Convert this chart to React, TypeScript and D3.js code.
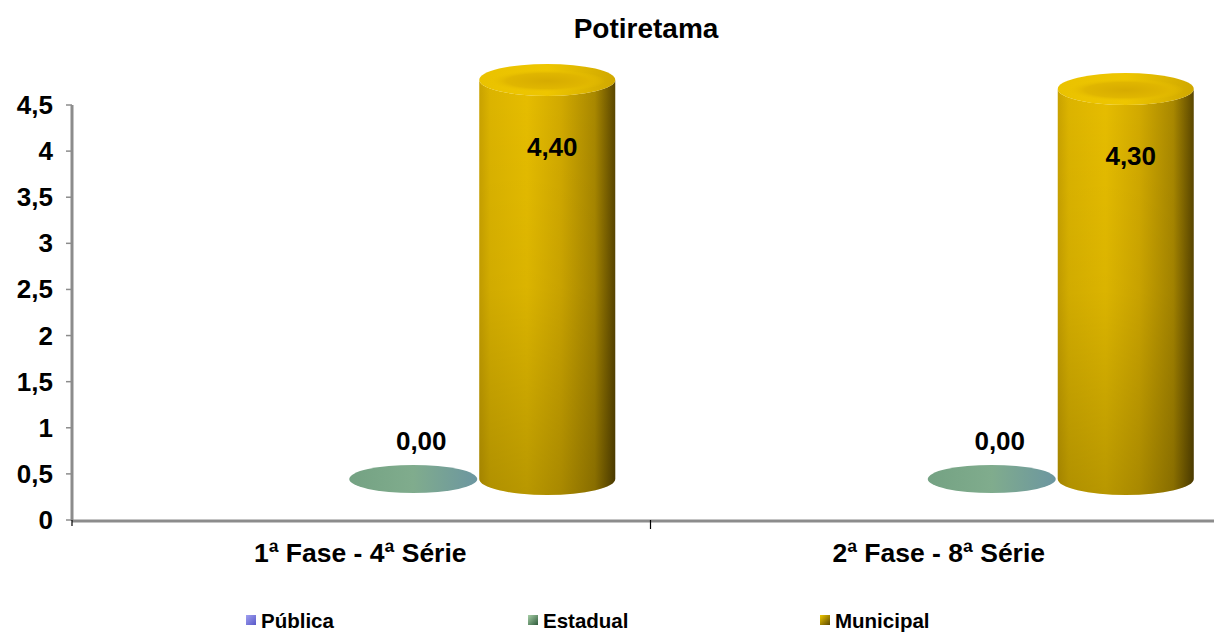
import React from "react";
import * as d3 from "d3";

const categories = ["1ª Fase - 4ª Série", "2ª Fase - 8ª Série"];
const seriesNames = ["Pública", "Estadual", "Municipal"];
const publica: (number | null)[] = [null, null];
const estadual: (number | null)[] = [0, 0];
const municipal: (number | null)[] = [4.4, 4.3];
const yTicks = [0, 0.5, 1, 1.5, 2, 2.5, 3, 3.5, 4, 4.5];
const title = "Potiretama";

const W = 1214;
const H = 632;
const FONT = "'Liberation Sans', Arial, sans-serif";

export default function App() {
  const x = d3.scaleBand<string>().domain(categories).range([72, 1229]).paddingInner(0);
  const y = d3.scaleLinear().domain([0, 4.5]).range([520, 105]);
  // 3D depth projection: bars sit behind the front axis plane
  const depthDx = 52;
  const depthDy = -41;
  const yBar = d3.scaleLinear().domain([0, 4.5]).range([y(0) + depthDy, y(0) + depthDy - 4.5 * 90.7]);
  const inner = d3.scaleBand<string>().domain(seriesNames).range([-201, 201]);
  const seriesData = [publica, estadual, municipal];
  const fmt = (v: number) => v.toFixed(2).replace(".", ",");
  const ry = 16;

  const slotCenter = (ci: number, si: number) =>
    (x(categories[ci]) as number) + x.bandwidth() / 2 + depthDx + (inner(seriesNames[si]) as number) + inner.bandwidth() / 2;

  const cylinders: React.ReactNode[] = [];
  const labels: React.ReactNode[] = [];
  categories.forEach((c, ci) => {
    seriesData.forEach((arr, si) => {
      const v = arr[ci];
      if (v === null || v === undefined) return;
      const cx = slotCenter(ci, si);
      const yb = yBar(0);
      const yt = yBar(v);
      if (v === 0) {
        const rx = 64;
        cylinders.push(
          <ellipse key={`e${ci}${si}`} cx={cx} cy={yb} rx={rx} ry={ry - 2} fill="url(#greenFlat)" />
        );
        labels.push(
          <text key={`l${ci}${si}`} x={cx + 8} y={yb - 38} textAnchor="middle" dominantBaseline="central"
            fontFamily={FONT} fontWeight="bold" fontSize={26} fill="#000">{fmt(v)}</text>
        );
      } else {
        const rx = 68;
        const body = `M${cx - rx},${yt} L${cx - rx},${yb} A${rx},${ry} 0 0 0 ${cx + rx},${yb} L${cx + rx},${yt} A${rx},${ry} 0 0 1 ${cx - rx},${yt} Z`;
        cylinders.push(
          <g key={`c${ci}${si}`}>
            <path d={body} fill="url(#goldBody)" />
            <path d={body} fill="url(#goldShade)" />
            <ellipse cx={cx} cy={yt} rx={rx} ry={ry} fill="url(#goldTop)" />
            <ellipse cx={cx} cy={yt + 1} rx={rx - 10} ry={ry - 5} fill="url(#goldTopInner)" />
          </g>
        );
        labels.push(
          <text key={`l${ci}${si}`} x={cx + 5} y={yt + 67} textAnchor="middle" dominantBaseline="central"
            fontFamily={FONT} fontWeight="bold" fontSize={26} fill="#000">{fmt(v)}</text>
        );
      }
    });
  });

  const legendX = [246, 528, 820];
  const legendFill = ["url(#legBlue)", "url(#legGreen)", "url(#legGold)"];

  return (
    <svg width={W} height={H} style={{ position: "absolute", left: 0, top: 0, background: "#fff" }}>
      <defs>
        <linearGradient id="goldBody" x1="0" y1="0" x2="1" y2="0">
          <stop offset="0" stopColor="#c9a200" />
          <stop offset="0.08" stopColor="#dcb400" />
          <stop offset="0.35" stopColor="#e6bd00" />
          <stop offset="0.6" stopColor="#d2aa00" />
          <stop offset="0.85" stopColor="#a98800" />
          <stop offset="1" stopColor="#5a4600" />
        </linearGradient>
        <linearGradient id="goldShade" x1="0" y1="0" x2="0" y2="1">
          <stop offset="0" stopColor="#000" stopOpacity="0" />
          <stop offset="0.5" stopColor="#000" stopOpacity="0.05" />
          <stop offset="1" stopColor="#000" stopOpacity="0.2" />
        </linearGradient>
        <linearGradient id="goldTop" x1="0" y1="0" x2="1" y2="0">
          <stop offset="0" stopColor="#eac200" />
          <stop offset="0.5" stopColor="#eec600" />
          <stop offset="1" stopColor="#d0a800" />
        </linearGradient>
        <radialGradient id="goldTopInner" cx="0.5" cy="0.5" r="0.5">
          <stop offset="0" stopColor="#d6ab00" />
          <stop offset="0.7" stopColor="#e0b600" />
          <stop offset="1" stopColor="#eac200" stopOpacity="0" />
        </radialGradient>
        <linearGradient id="greenFlat" x1="0" y1="0" x2="1" y2="0">
          <stop offset="0" stopColor="#74a283" />
          <stop offset="0.5" stopColor="#80ac8d" />
          <stop offset="1" stopColor="#6c96a0" />
        </linearGradient>
        <linearGradient id="legBlue" x1="0" y1="0" x2="1" y2="1">
          <stop offset="0" stopColor="#a0a0f0" />
          <stop offset="1" stopColor="#5858c8" />
        </linearGradient>
        <linearGradient id="legGreen" x1="0" y1="0" x2="1" y2="1">
          <stop offset="0" stopColor="#a8d0a8" />
          <stop offset="1" stopColor="#2e5a3a" />
        </linearGradient>
        <linearGradient id="legGold" x1="0" y1="0" x2="1" y2="1">
          <stop offset="0" stopColor="#f0c800" />
          <stop offset="1" stopColor="#5a4600" />
        </linearGradient>
      </defs>

      <text x={646} y={28} textAnchor="middle" dominantBaseline="central" fontFamily={FONT}
        fontWeight="bold" fontSize={28} fill="#000">{title}</text>

      {/* y axis */}
      <line x1={72} y1={y(4.5)} x2={72} y2={y(0) + 1} stroke="#8c8c8c" strokeWidth={3} />
      {yTicks.map((t) => (
        <g key={t}>
          <line x1={66} x2={72} y1={y(t)} y2={y(t)} stroke="#8c8c8c" strokeWidth={1.5} />
          <text x={53} y={y(t)} textAnchor="end" dominantBaseline="central" fontFamily={FONT}
            fontWeight="bold" fontSize={26} fill="#000">{String(t).replace(".", ",")}</text>
        </g>
      ))}

      {/* x axis */}
      <line x1={72} y1={y(0) + 1} x2={W} y2={y(0) + 1} stroke="#8c8c8c" strokeWidth={3} />
      {categories.map((c, i) => (
        <g key={c}>
          {i > 0 && (
            <line x1={x(c) as number} x2={x(c) as number} y1={y(0)} y2={y(0) + 9} stroke="#000" strokeWidth={1.2} />
          )}
          <text x={(x(c) as number) + x.bandwidth() / 2 - 1} y={553} textAnchor="middle" dominantBaseline="central"
            fontFamily={FONT} fontWeight="bold" fontSize={26.5} fill="#000">{c}</text>
        </g>
      ))}
      <line x1={72} x2={72} y1={y(0)} y2={y(0) + 6} stroke="#000" strokeWidth={1.2} />

      {cylinders}
      {labels}

      {/* legend */}
      {seriesNames.map((s, i) => (
        <g key={s}>
          <rect x={legendX[i]} y={615} width={10} height={10} fill={legendFill[i]} />
          <text x={legendX[i] + 15} y={620} dominantBaseline="central" fontFamily={FONT}
            fontWeight="bold" fontSize={20.5} fill="#000">{s}</text>
        </g>
      ))}
    </svg>
  );
}
